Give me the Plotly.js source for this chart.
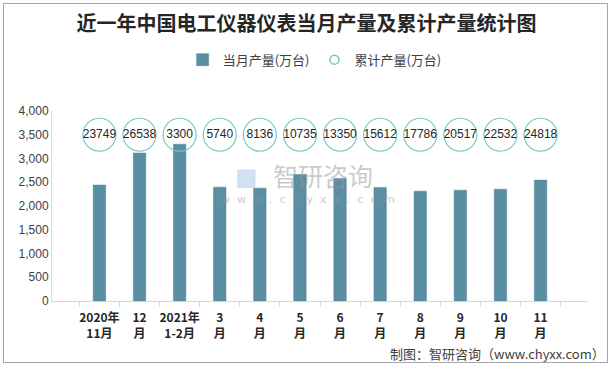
<!DOCTYPE html>
<html><head><meta charset="utf-8">
<script src="https://cdn.plot.ly/plotly-3.0.1.min.js"></script>
<style>
html,body{margin:0;padding:0;background:#fff;}
#wrap{position:relative;width:613px;height:368px;}
#frame{position:absolute;left:3px;top:3px;width:603px;height:358px;border:1.5px solid #a6a6a6;pointer-events:none;}
</style></head>
<body><div id="wrap"><div id="chart" style="width:613px;height:368px;"></div><div id="frame"></div></div>
<script>
var categories = ["2020年<br>11月","12<br>月","2021年<br>1-2月","3<br>月","4<br>月","5<br>月","6<br>月","7<br>月","8<br>月","9<br>月","10<br>月","11<br>月"];
var monthly = [2440, 3114, 3300, 2397, 2376, 2665, 2581, 2391, 2313, 2334, 2355, 2545];
var cumulative = [23749, 26538, 3300, 5740, 8136, 10735, 13350, 15612, 17786, 20517, 22532, 24818];
var circleLevel = [3500, 3500, 3500, 3500, 3500, 3500, 3500, 3500, 3500, 3500, 3500, 3500];

var barColor = '#5a8fa3';
var circColor = '#72c9c1';
var bar = {
  type: 'bar', x: categories, y: monthly, name: '当月产量(万台)',
  marker: {color: barColor, line: {color: '#4f8298', width: 0.5}},
  showlegend: true
};
var circ = {
  type: 'scatter', mode: 'markers+text', x: categories, y: circleLevel,
  name: '累计产量(万台)', showlegend: false,
  text: cumulative.map(String), textposition: 'middle center',
  textfont: {family: 'Liberation Sans, Arial, sans-serif', size: 12, color: '#262626'},
  marker: {symbol: 'circle', size: 33, color: 'rgba(255,255,255,0)', line: {color: circColor, width: 1.2}},
  cliponaxis: false
};
var circLegend = {
  type: 'scatter', mode: 'markers', x: [null], y: [null], name: '累计产量(万台)', showlegend: true,
  marker: {symbol: 'circle', size: 9, color: 'rgba(255,255,255,0)', line: {color: circColor, width: 1.5}}
};
var layout = {
  width: 613, height: 368,
  margin: {l: 52, r: 25, t: 111, b: 67},
  paper_bgcolor: '#fff', plot_bgcolor: '#fff',
  showlegend: true,
  bargap: 0.69,
  title: {text: '近一年中国电工仪器仪表当月产量及累计产量统计图', x: 0.5, xanchor: 'center', y: 0.935, yanchor: 'middle',
    font: {family: 'Noto Sans CJK SC, sans-serif', size: 20, color: '#262626', weight: 'bold'}},
  legend: {orientation: 'h', x: 0.49, xanchor: 'center', y: 1.27, yanchor: 'middle',
    font: {family: 'Noto Sans CJK SC, sans-serif', size: 13, color: '#404040'}, itemwidth: 20,
    traceorder: 'normal'},
  xaxis: {type: 'category', showgrid: false, showline: true, linecolor: '#d9d9d9', linewidth: 1,
    ticks: 'outside', tickson: 'boundaries', ticklen: 5, tickcolor: '#d9d9d9', tickangle: 0,
    ticklabelstandoff: 6,
    tickfont: {family: 'Noto Sans CJK SC, sans-serif', size: 12, color: '#262626', weight: 'bold'}},
  yaxis: {range: [0, 4000], dtick: 500, tickformat: ',', showgrid: false, zeroline: false,
    showline: true, linecolor: '#d9d9d9', linewidth: 1, ticks: '',
    tickfont: {family: 'Liberation Sans, Arial, sans-serif', size: 12, color: '#404040'}},
  annotations: [
    {xref: 'paper', yref: 'paper', x: 0.506, y: 0.665, xanchor: 'center', yanchor: 'middle', showarrow: false,
      text: '智研咨询', font: {family: 'Noto Sans CJK SC, sans-serif', size: 25, color: 'rgba(150,150,150,0.5)'}},
    {xref: 'paper', yref: 'paper', x: 0.478, y: 0.535, xanchor: 'center', yanchor: 'middle', showarrow: false,
      text: 'w  w  w  .  c  h  y  x  x  .  c  o  m', font: {family: 'DejaVu Sans, sans-serif', size: 11, color: 'rgba(150,150,150,0.5)'}},
    {xref: 'paper', yref: 'paper', x: 0.362, y: 0.652, xanchor: 'center', yanchor: 'middle', showarrow: false,
      text: '■', font: {family: 'DejaVu Sans, sans-serif', size: 24, color: 'rgba(170,200,230,0.55)'}},
    {xref: 'paper', yref: 'paper', x: 1.036, y: -0.275, xanchor: 'right', yanchor: 'middle', showarrow: false,
      text: '制图：智研咨询（www.chyxx.com）', font: {family: 'Noto Sans CJK SC, sans-serif', size: 13, color: '#404040'}}
  ]
};
Plotly.newPlot('chart', [bar, circ, circLegend], layout, {displayModeBar: false, staticPlot: true});
</script></body></html>
